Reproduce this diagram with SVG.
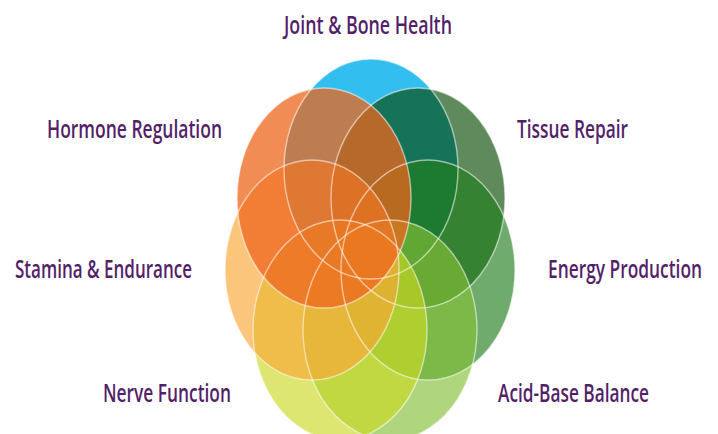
<svg xmlns="http://www.w3.org/2000/svg" width="718" height="434" viewBox="0 0 718 434">
  <style>
    .lbl { font-family: "Open Sans", "Liberation Sans", sans-serif; font-weight: 600; font-size: 26px; fill: #531F69; }
    .petal { stroke: none; }
    .ring { fill: none; stroke: #FFFFFF; stroke-opacity: 0.55; stroke-width: 1.4; }
  </style>
  <defs>
    <ellipse id="e" cx="0" cy="0" rx="87" ry="110"/>
  </defs>
  <rect width="718" height="434" fill="#FFFFFF"/>
  <g id="petals">
    <g id="joint-bone"><use href="#e" x="371" y="169" class="petal" fill="#33BEF0"/></g>
    <g id="tissue-repair"><use href="#e" x="418" y="198" class="petal" fill="#094B05" fill-opacity="0.65"/></g>
    <g id="energy-production"><use href="#e" x="428" y="270" class="petal" fill="#207E1D" fill-opacity="0.65"/></g>
    <g id="acid-base"><use href="#e" x="390" y="330" class="petal" fill="#84C036" fill-opacity="0.65"/></g>
    <g id="nerve-function"><use href="#e" x="340" y="330" class="petal" fill="#CBD923" fill-opacity="0.65"/></g>
    <g id="stamina"><use href="#e" x="312" y="270" class="petal" fill="#FBA636" fill-opacity="0.65"/></g>
    <g id="hormone"><use href="#e" x="324" y="198" class="petal" fill="#ED651C" fill-opacity="0.75"/></g>
  </g>
  <g id="outlines">
    <use href="#e" x="371" y="169" class="ring"/>
    <use href="#e" x="418" y="198" class="ring"/>
    <use href="#e" x="428" y="270" class="ring"/>
    <use href="#e" x="390" y="330" class="ring"/>
    <use href="#e" x="340" y="330" class="ring"/>
    <use href="#e" x="312" y="270" class="ring"/>
    <use href="#e" x="324" y="198" class="ring"/>
  </g>
  <g id="labels">
    <text class="lbl" transform="translate(284,34) scale(0.67,1)" textLength="250.7" lengthAdjust="spacingAndGlyphs">Joint &amp; Bone Health</text>
    <text class="lbl" transform="translate(47,138) scale(0.67,1)" textLength="261.2" lengthAdjust="spacingAndGlyphs">Hormone Regulation</text>
    <text class="lbl" transform="translate(517,138) scale(0.67,1)" textLength="165.7" lengthAdjust="spacingAndGlyphs">Tissue Repair</text>
    <text class="lbl" transform="translate(15,278) scale(0.67,1)" textLength="264.2" lengthAdjust="spacingAndGlyphs">Stamina &amp; Endurance</text>
    <text class="lbl" transform="translate(548,278) scale(0.67,1)" textLength="229.9" lengthAdjust="spacingAndGlyphs">Energy Production</text>
    <text class="lbl" transform="translate(103,402) scale(0.67,1)" textLength="191" lengthAdjust="spacingAndGlyphs">Nerve Function</text>
    <text class="lbl" transform="translate(498,402) scale(0.67,1)" textLength="225.4" lengthAdjust="spacingAndGlyphs">Acid-Base Balance</text>
  </g>
</svg>
